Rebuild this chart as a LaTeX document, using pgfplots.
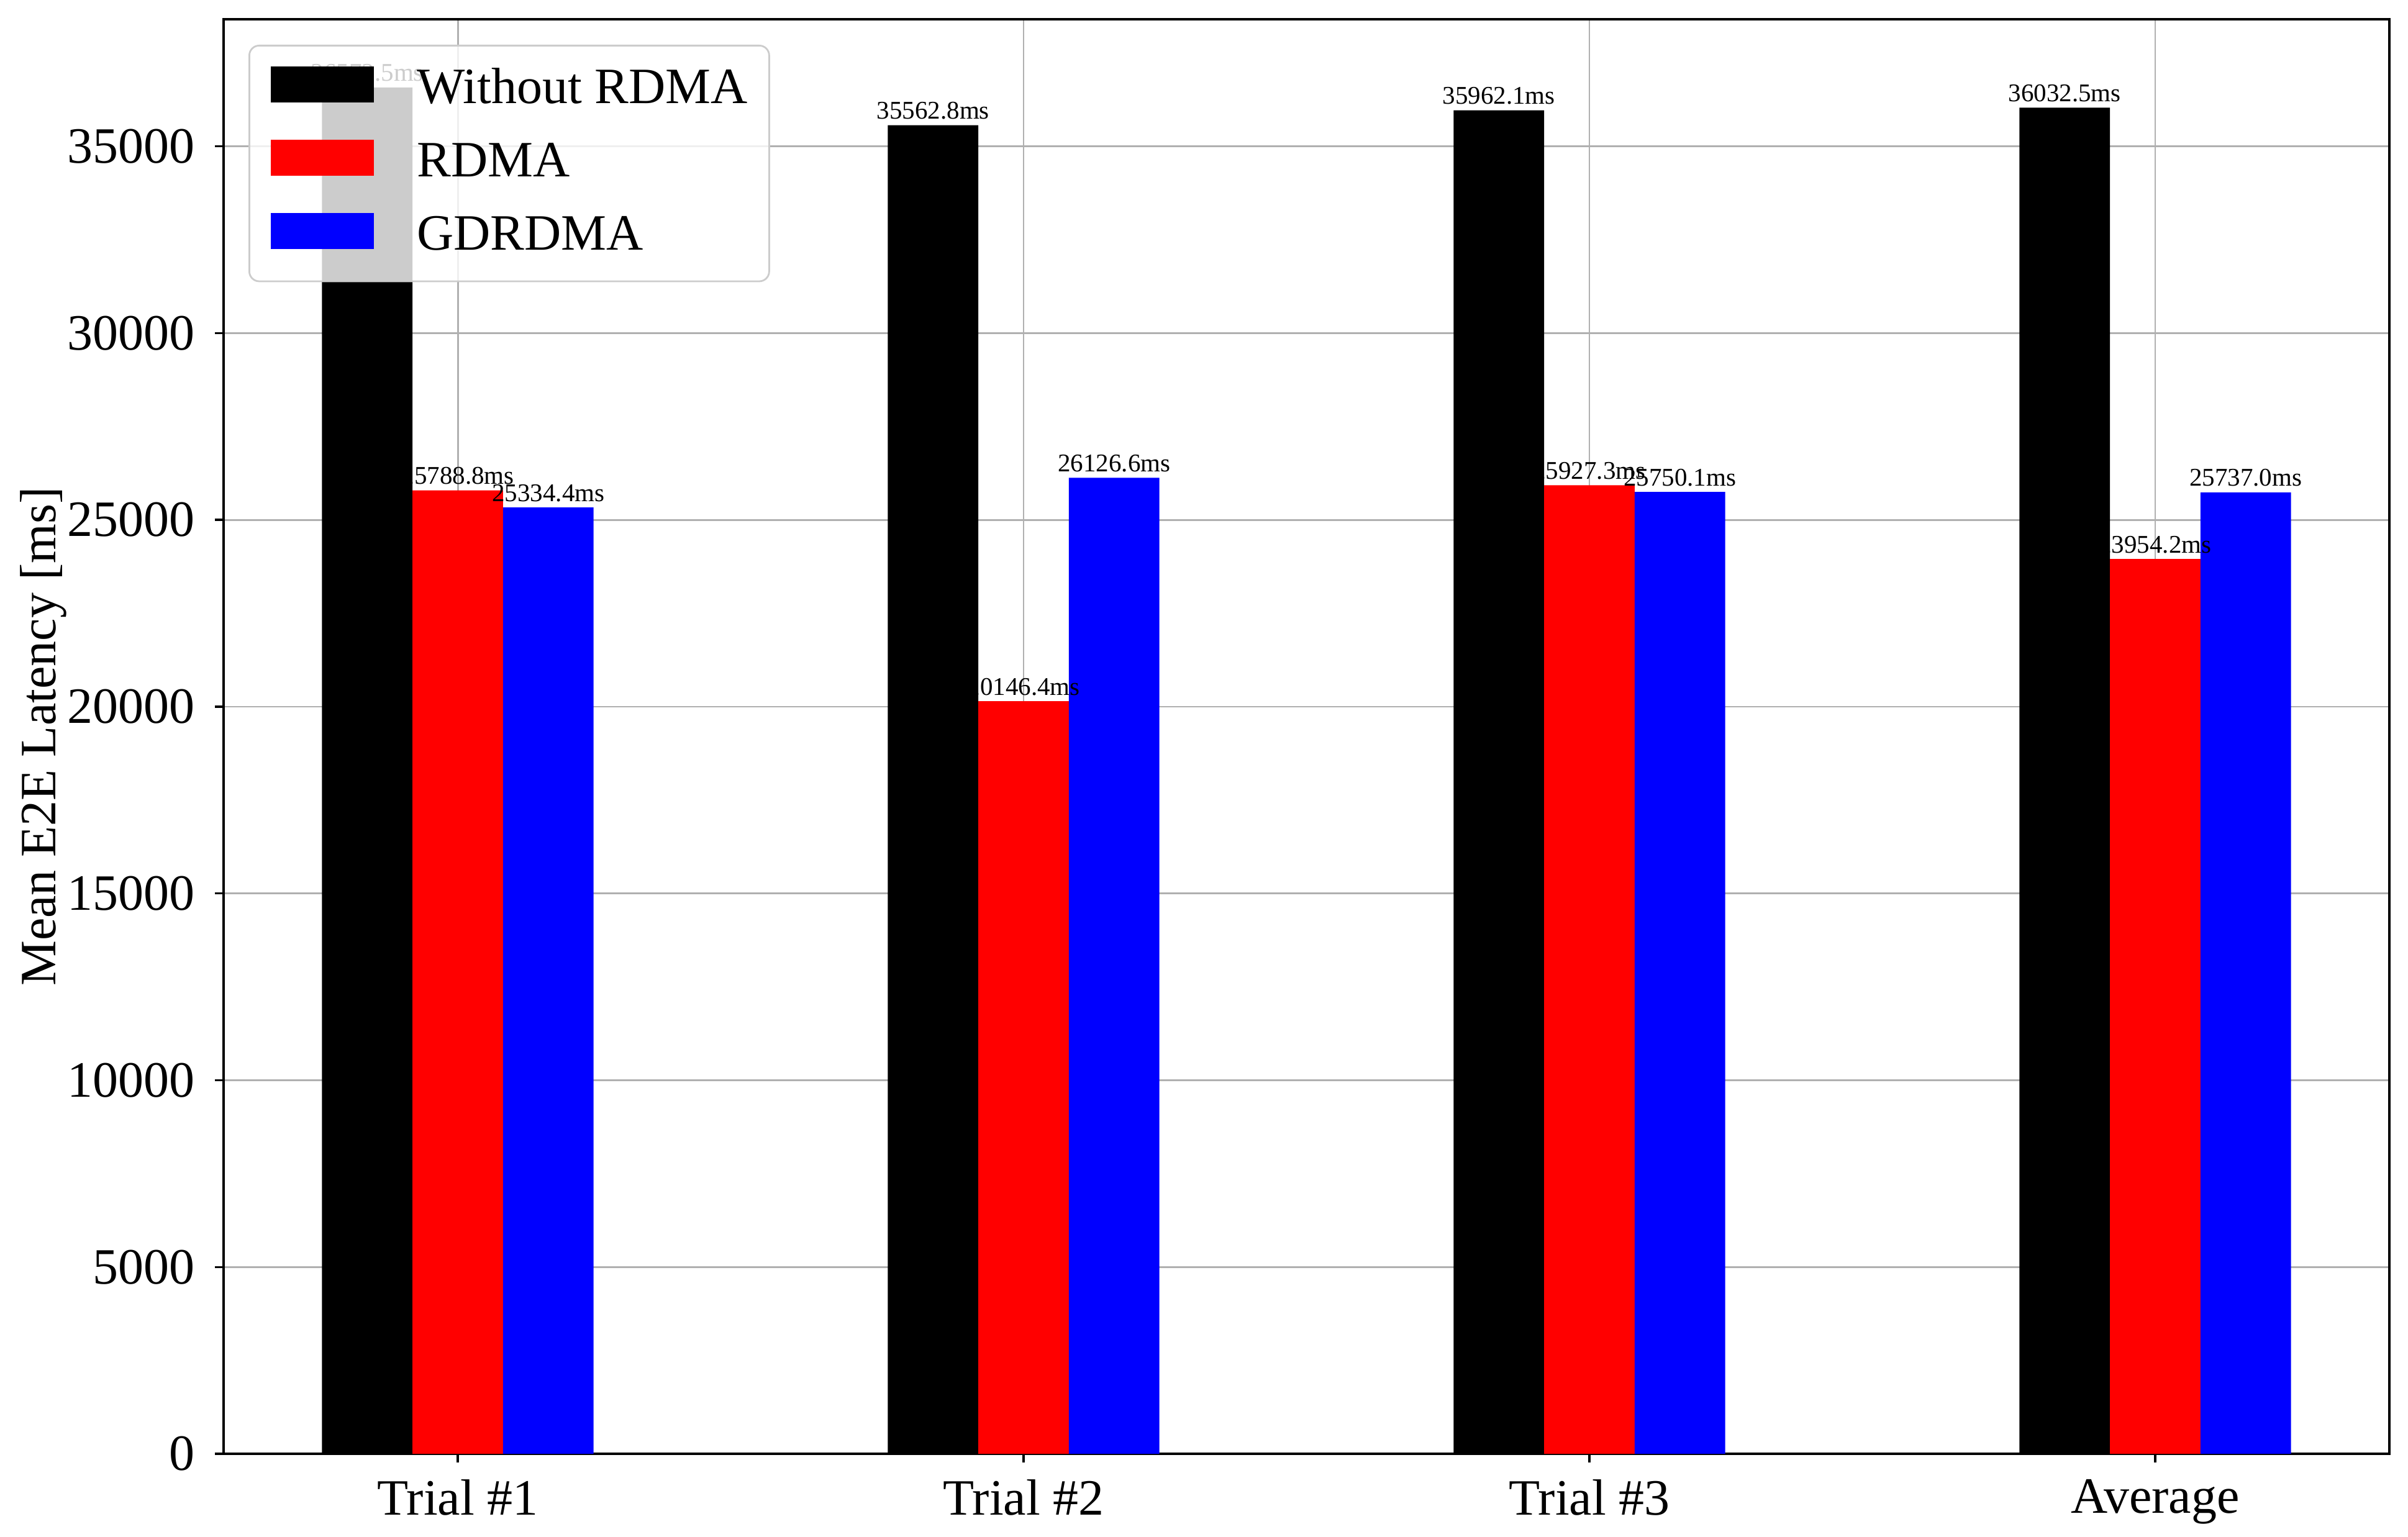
\documentclass[border=0pt]{standalone}
\usepackage{fontspec}
\setmainfont{Liberation Serif}
\usepackage{pgfplots}
\pgfplotsset{compat=1.18}

% sizes at 1px = 0.25pt
\newcommand{\bigfont}{\fontsize{20.5}{24}\selectfont}
\newcommand{\smallfont}{\fontsize{10.25}{12}\selectfont}

\pgfplotsset{
  barlegend/.style={legend image code/.code={%
    \fill[##1,fill opacity=1,sharp corners] (0pt,-5.05pt) rectangle (41.5pt,9.45pt);}},
}

\begin{document}
\begin{tikzpicture}
\path[use as bounding box] (-90pt,-33.25pt) rectangle (879.25pt,585.25pt);
\begin{axis}[%
width=871.75pt,
height=577.5pt,
at={(0pt,0pt)},
anchor=south west,
scale only axis,
clip=false,
xmin=-0.414, xmax=3.414,
ymin=0, ymax=38401,
xtick={0,1,2,3},
xticklabels={Trial \#1, Trial \#2, Trial \#3, Average},
ytick={0,5000,...,35000},
scaled y ticks=false,
/pgf/number format/assume math mode=true,
yticklabel style={/pgf/number format/1000 sep={}, inner sep=0pt, anchor=east, xshift=-8pt},
xticklabel style={inner sep=0pt, anchor=north, yshift=-6.6pt},
tick label style={font=\bigfont},
xtick pos=bottom, ytick pos=left,
tick align=outside,
major tick length=3.5pt,
tick style={black, line width=0.85pt},
axis line style={line width=0.85pt},
grid=major,
major grid style={color=black!31, line width=0.7pt},
ylabel={Mean E2E Latency [ms]},
ylabel style={at={(axis description cs:-0.0777,0.5)}, anchor=base, inner sep=0pt, font=\bigfont},
nodes near coords={\pgfmathprintnumber[fixed,precision=1,fixed zerofill,1000 sep={}]{\pgfplotspointmeta}ms},
every node near coord/.append style={font=\smallfont, anchor=base, inner sep=0pt, yshift=2.5pt, black},
legend style={at={(axis description cs:0.01147,0.98225)}, anchor=north west,
  draw=black!20, line width=0.7pt, fill=white, fill opacity=0.8, draw opacity=1, text opacity=1,
  rounded corners=4pt, inner xsep=8.75pt, inner ysep=8.25pt, row sep=10.1pt, column sep=17.25pt,
  font=\bigfont, nodes={inner sep=0pt, text height=15pt, text depth=4.4pt}},
legend cell align=left,
]
\addplot[ybar, bar width=0.16, bar shift=0pt, fill=black, draw=none, barlegend] coordinates {
(-0.16,36572.5) (0.84,35562.8) (1.84,35962.1) (2.84,36032.5)
};
\addlegendentry{Without RDMA}
\addplot[ybar, bar width=0.16, bar shift=0pt, fill=red, draw=none, barlegend] coordinates {
(0,25788.8) (1,20146.4) (2,25927.3) (3,23954.2)
};
\addlegendentry{RDMA}
\addplot[ybar, bar width=0.16, bar shift=0pt, fill=blue, draw=none, barlegend] coordinates {
(0.16,25334.4) (1.16,26126.6) (2.16,25750.1) (3.16,25737.0)
};
\addlegendentry{GDRDMA}
\end{axis}
\end{tikzpicture}
\end{document}
